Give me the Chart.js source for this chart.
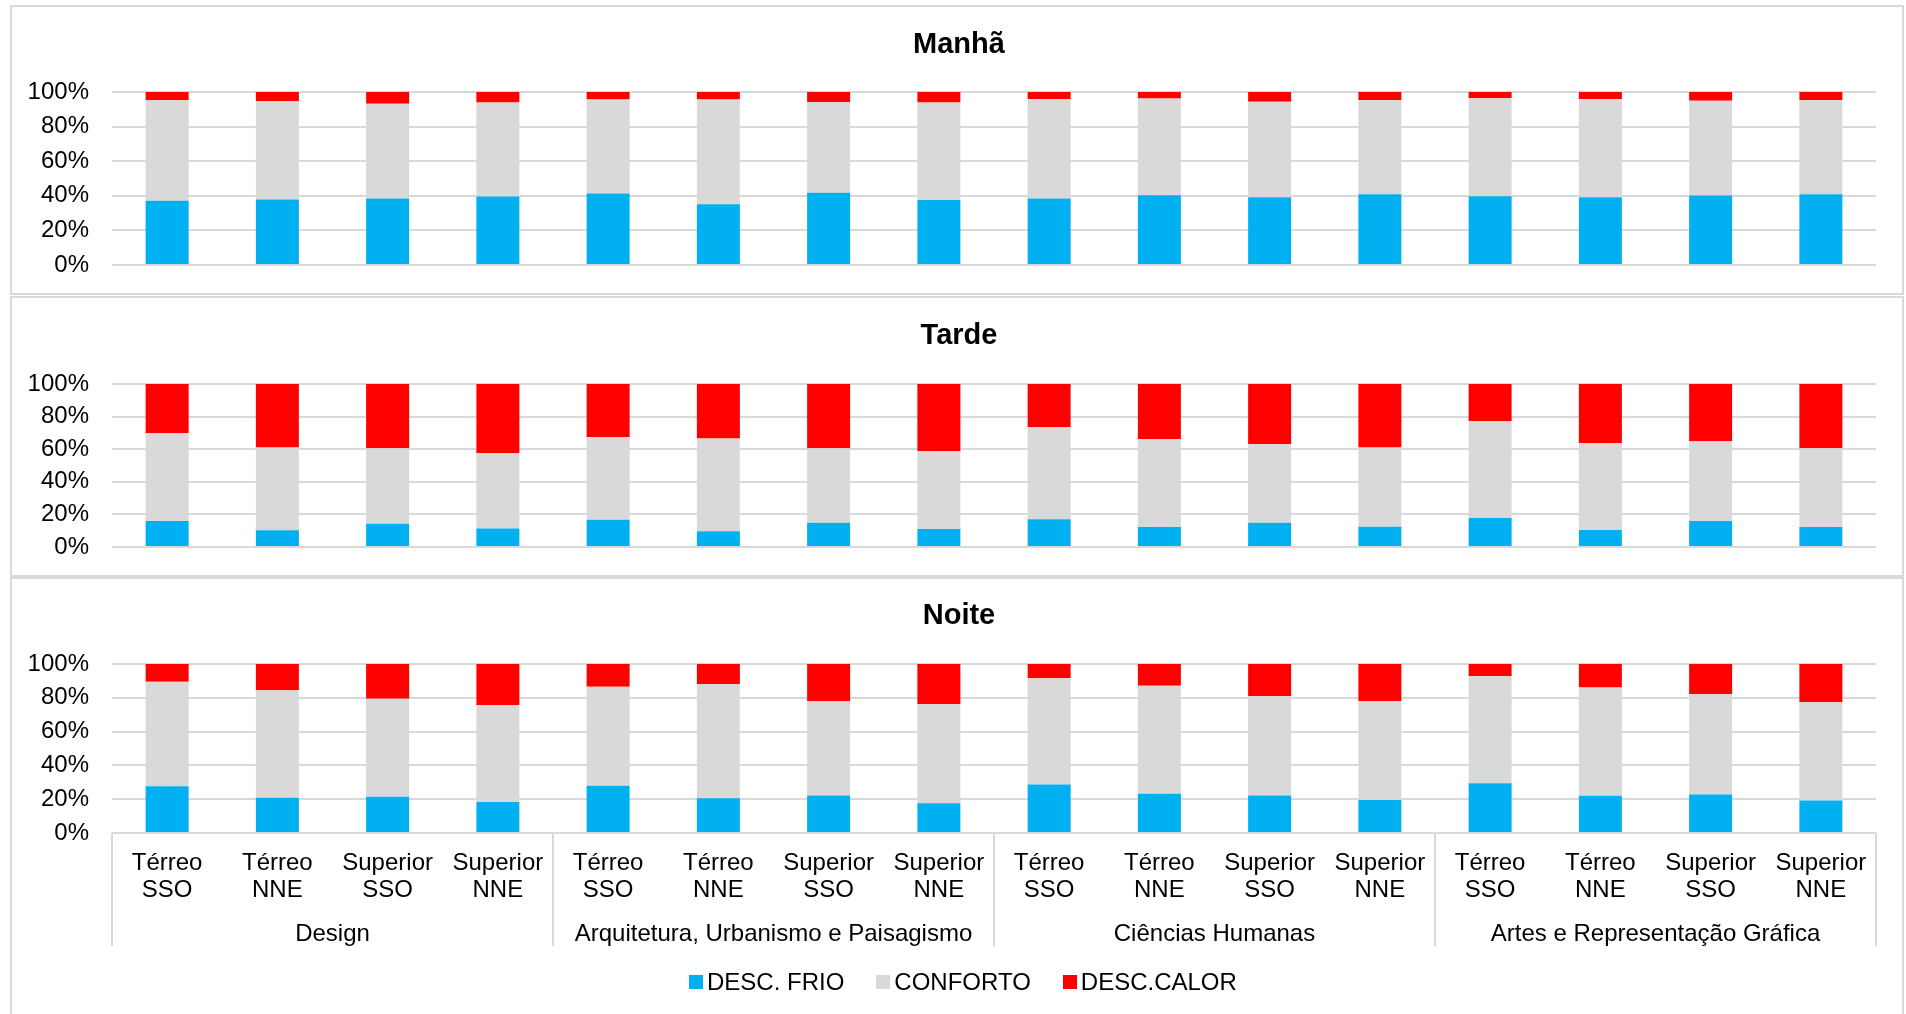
<!DOCTYPE html>
<html lang="pt">
<head>
<meta charset="utf-8">
<title>Conforto térmico por período do dia</title>
<script src="https://cdn.jsdelivr.net/npm/chart.js@4.4.1/dist/chart.umd.min.js"></script>
<style>
  html, body { margin: 0; padding: 0; background: #fff; }
  body { width: 1906px; height: 1014px; position: relative; overflow: hidden;
         font-family: "Liberation Sans", Arial, sans-serif; }
  .panel { position: absolute; left: 10px; width: 1894px; box-sizing: border-box;
           border: 2px solid #d9d9d9; background: #fff; }
  .panel canvas { display: block; }
  #legend { position: absolute; left: 689px; top: 968px; display: flex; align-items: center;
            font-size: 24px; line-height: 28px; color: #000; white-space: nowrap; }
  #legend .item { display: flex; align-items: center; margin-right: 32px; }
  #legend .swatch { width: 14px; height: 14px; margin-right: 4px; }
</style>
</head>
<body>
<div class="panel" style="top:5px;height:290px"><canvas id="c1" width="1890" height="286"></canvas></div>
<div class="panel" style="top:296px;height:281px"><canvas id="c2" width="1890" height="277"></canvas></div>
<div class="panel" style="top:577px;height:440px"><canvas id="c3" width="1890" height="436"></canvas></div>
<div id="legend"></div>

<script>
// Categories: building floor + facade orientation, grouped by course
const floors = ['Térreo', 'Térreo', 'Superior', 'Superior'];
const orientations = ['SSO', 'NNE', 'SSO', 'NNE'];
const groups = ['Design', 'Arquitetura, Urbanismo e Paisagismo', 'Ciências Humanas', 'Artes e Representação Gráfica'];

// Series names and colours
const seriesNames = ['DESC. FRIO', 'CONFORTO', 'DESC.CALOR'];
const seriesColors = ['#00B0F0', '#D9D9D9', '#FF0000'];

// Y axis ticks (%)
const yTicks = [0, 20, 40, 60, 80, 100];

// Manhã (%)
const frioManha     = [37.1, 37.8, 38.4, 39.6, 41.3, 35.1, 41.7, 37.6, 38.4, 40.3, 39.2, 40.9, 39.8, 39.2, 40.2, 40.9];
const confortoManha = [58.1, 57.0, 54.8, 54.4, 54.3, 60.5, 52.5, 56.4, 57.5, 56.0, 55.2, 54.5, 56.7, 56.7, 54.8, 54.5];
const calorManha    = [4.8, 5.2, 6.8, 6.0, 4.4, 4.4, 5.8, 6.0, 4.1, 3.7, 5.6, 4.6, 3.5, 4.1, 5.0, 4.6];

// Tarde (%)
const frioTarde     = [15.9, 10.2, 14.3, 11.4, 16.7, 9.6, 14.9, 11.0, 17.1, 12.2, 14.9, 12.4, 17.8, 10.4, 15.9, 12.2];
const confortoTarde = [54.1, 50.8, 46.3, 46.2, 50.6, 56.9, 45.7, 47.8, 56.4, 54.1, 48.2, 48.6, 59.5, 53.3, 49.0, 48.4];
const calorTarde    = [30.0, 39.0, 39.4, 42.4, 32.7, 33.5, 39.4, 41.2, 26.5, 33.7, 36.9, 39.0, 22.7, 36.3, 35.1, 39.4];

// Noite (%)
const frioNoite     = [27.7, 20.8, 21.4, 18.4, 27.9, 20.6, 22.2, 17.6, 28.7, 23.2, 22.2, 19.6, 29.5, 22.0, 22.8, 19.2];
const confortoNoite = [61.8, 63.6, 58.0, 57.4, 58.6, 67.5, 55.8, 58.8, 62.8, 63.9, 58.8, 58.4, 63.4, 64.1, 59.4, 58.2];
const calorNoite    = [10.5, 15.6, 20.6, 24.2, 13.5, 11.9, 22.0, 23.6, 8.5, 12.9, 19.0, 22.0, 7.1, 13.9, 17.8, 22.6];

// Two-line category labels, repeated for each group
const labels = [];
groups.forEach(() => floors.forEach((f, i) => labels.push([f, orientations[i]])));

const FONT = '"Liberation Sans", Arial, sans-serif';
const GRID = '#D9D9D9';

// Panel title, centred on the whole panel
const panelTitlePlugin = {
  id: 'panelTitle',
  afterDraw(chart, args, opts) {
    const ctx = chart.ctx;
    ctx.save();
    ctx.fillStyle = '#000';
    ctx.font = 'bold 29px ' + FONT;
    ctx.textAlign = 'center';
    ctx.textBaseline = 'middle';
    ctx.fillText(opts.text, chart.width / 2 + 2, opts.y);
    ctx.restore();
  }
};

// Course names under the category labels, with separators between groups
const groupAxisPlugin = {
  id: 'groupAxis',
  afterDraw(chart, args, opts) {
    if (!opts.show) return;
    const x = chart.scales.x;
    const area = chart.chartArea;
    const n = labels.length;
    const per = n / groups.length;
    const ctx = chart.ctx;
    const edge = (i) => {
      if (i <= 0) return x.left;
      if (i >= n) return x.right;
      return (x.getPixelForValue(i - 1) + x.getPixelForValue(i)) / 2;
    };
    ctx.save();
    ctx.strokeStyle = GRID;
    ctx.lineWidth = 2;
    for (let g = 0; g <= groups.length; g++) {
      const px = Math.round(edge(g * per));
      ctx.beginPath();
      ctx.moveTo(px, area.bottom);
      ctx.lineTo(px, opts.lineEnd);
      ctx.stroke();
    }
    ctx.fillStyle = '#000';
    ctx.font = '24px ' + FONT;
    ctx.textAlign = 'center';
    ctx.textBaseline = 'middle';
    groups.forEach((name, g) => {
      const cx = (x.getPixelForValue(g * per) + x.getPixelForValue(g * per + per - 1)) / 2;
      ctx.fillText(name, cx, opts.labelY);
    });
    ctx.restore();
  }
};

function makeChart(id, title, frio, conforto, calor, cfg) {
  const values = [frio, conforto, calor];
  return new Chart(document.getElementById(id), {
    type: 'bar',
    data: {
      labels: labels,
      datasets: values.map((v, i) => ({
        label: seriesNames[i],
        data: v,
        backgroundColor: seriesColors[i],
        borderWidth: 0,
        categoryPercentage: 1,
        barPercentage: 0.39
      }))
    },
    plugins: [panelTitlePlugin, groupAxisPlugin],
    options: {
      responsive: false,
      animation: false,
      events: [],
      layout: { padding: { left: 0, right: 26, top: cfg.top, bottom: cfg.bottom } },
      plugins: {
        legend: { display: false },
        tooltip: { enabled: false },
        title: { display: false },
        panelTitle: { text: title, y: cfg.titleY },
        groupAxis: { show: cfg.withAxis, labelY: 355, lineEnd: 367 }
      },
      scales: {
        x: {
          stacked: true,
          display: cfg.withAxis,
          offset: true,
          grid: { display: false, drawTicks: false },
          border: { display: false },
          ticks: {
            color: '#000',
            autoSkip: false,
            maxRotation: 0,
            padding: 17,
            font: { family: FONT, size: 24, lineHeight: 1.125 }
          },
          afterFit(scale) { if (cfg.withAxis) scale.height = cfg.axisHeight; }
        },
        y: {
          stacked: true,
          min: 0,
          max: 100,
          afterFit(scale) {
            scale.width = 100;
            scale.paddingTop = 0;
            scale.paddingBottom = 0;
          },
          afterBuildTicks(scale) { scale.ticks = yTicks.map(v => ({ value: v })); },
          grid: { color: GRID, lineWidth: 2, drawTicks: false },
          border: { display: false },
          ticks: {
            color: '#000',
            padding: 23,
            autoSkip: false,
            font: { family: FONT, size: 24 },
            callback: (v) => v + '%'
          }
        }
      }
    }
  });
}

makeChart('c1', 'Manhã', frioManha, confortoManha, calorManha,
  { withAxis: false, top: 85, bottom: 28, titleY: 38 });
makeChart('c2', 'Tarde', frioTarde, confortoTarde, calorTarde,
  { withAxis: false, top: 86, bottom: 28, titleY: 37.7 });
makeChart('c3', 'Noite', frioNoite, confortoNoite, calorNoite,
  { withAxis: true, top: 85, bottom: 0, axisHeight: 182, titleY: 37.2 });

// Shared legend for the three panels
const legend = document.getElementById('legend');
seriesNames.forEach((name, i) => {
  const item = document.createElement('div');
  item.className = 'item';
  const sw = document.createElement('span');
  sw.className = 'swatch';
  sw.style.background = seriesColors[i];
  const txt = document.createElement('span');
  txt.textContent = name;
  item.appendChild(sw);
  item.appendChild(txt);
  legend.appendChild(item);
});
</script>
</body>
</html>
